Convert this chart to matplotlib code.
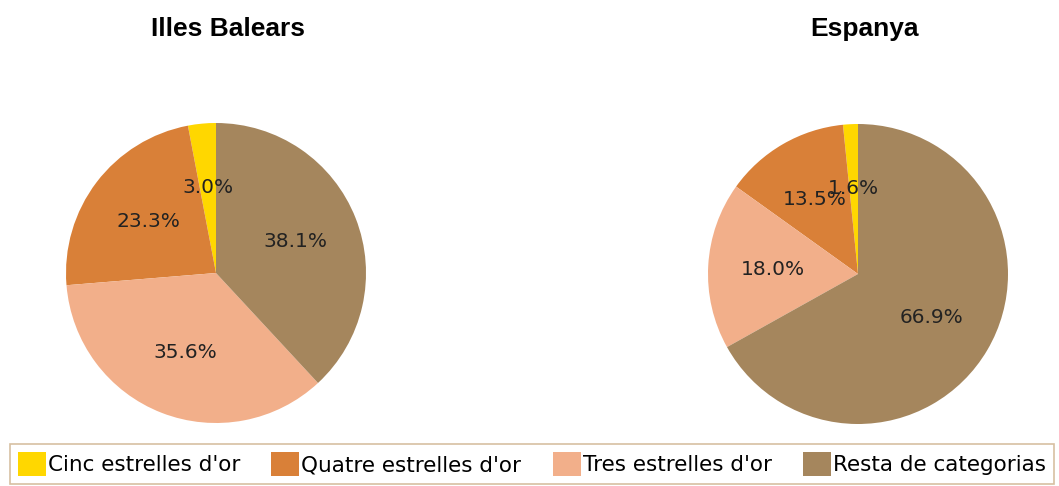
import matplotlib.pyplot as plt
from matplotlib.patches import Patch

categories = ["Cinc estrelles d'or", "Quatre estrelles d'or", "Tres estrelles d'or", "Resta de categorias"]
illes_balears = [3.0, 23.3, 35.6, 38.1]
espanya = [1.6, 13.5, 18.0, 66.9]
colors = ['#FFD700', '#D98038', '#F2AF8A', '#A5865D']

W, H = 1059, 486
fig = plt.figure(figsize=(W / 100, H / 100), dpi=100)


def pie_axes(cx, cy, r):
    return fig.add_axes([(cx - r) / W, (H - cy - r) / H, 2 * r / W, 2 * r / H])


for (cx, cy), vals in [((216, 273), illes_balears), ((858, 274), espanya)]:
    ax = pie_axes(cx, cy, 150)
    ax.pie(vals, colors=colors, startangle=90, counterclock=True,
           autopct='%.1f%%', pctdistance=0.57,
           textprops=dict(fontsize=14.5, color='#222222', family='DejaVu Sans'))
    ax.set_xlim(-1, 1)
    ax.set_ylim(-1, 1)
    ax.axis('off')

title_font = dict(fontsize=19, fontweight='bold', family='Liberation Sans')
fig.text(228 / W, 1 - 29 / H, 'Illes Balears', ha='center', va='center', **title_font)
fig.text(865 / W, 1 - 29 / H, 'Espanya', ha='center', va='center', **title_font)

handles = [Patch(facecolor=c, edgecolor='none') for c in colors]
leg = fig.legend(handles, categories, ncol=4, loc='lower left',
                 bbox_to_anchor=(10 / W, 2 / H), frameon=True, fancybox=False,
                 borderaxespad=0, handlelength=1.3, handleheight=1.4,
                 handletextpad=0.1, columnspacing=1.45, borderpad=0.35,
                 prop=dict(family='DejaVu Sans', size=15.5))
leg.get_frame().set_edgecolor('#CDB08A')
leg.get_frame().set_linewidth(1.2)

fig.savefig('out.png', dpi=100)
